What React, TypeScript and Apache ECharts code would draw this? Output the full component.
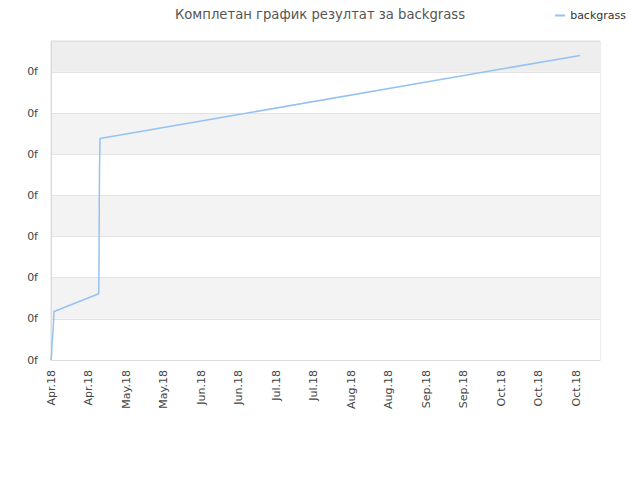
import * as echarts from 'echarts'
import { useEffect, useRef } from 'react'

// day offsets from 4 Apr 2018 and the cumulative score
const days = [0, 0.2, 0.4, 0.8, 1.2, 19.1, 19.2, 19.3, 19.4, 19.6, 211.6]
const scores = [0, 0.1, 0.39, 0.68, 1.18, 1.61, 2.21, 3.79, 4.61, 5.38, 7.4]
const monthNames = ['Jan', 'Feb', 'Mar', 'Apr', 'May', 'Jun', 'Jul', 'Aug', 'Sep', 'Oct', 'Nov', 'Dec']
const seriesName = 'backgrass'
const titleText = 'Комплетан график резултат за backgrass'

const fontFamily = 'DejaVu Sans'

export default function App() {
  const chartRef = useRef<HTMLDivElement>(null)

  useEffect(() => {
    if (!chartRef.current) return
    const chart = echarts.init(chartRef.current, null, { renderer: 'svg' })

    const option: any = {
      animation: false,
      textStyle: { fontFamily },
      title: {
        text: titleText,
        left: 'center',
        top: 3,
        textStyle: { fontSize: 13.2, fontWeight: 'normal', color: '#555', fontFamily }
      },
      legend: {
        top: 5,
        right: 9,
        itemWidth: 10,
        itemHeight: 2,
        icon: 'rect',
        textStyle: { fontSize: 11, color: '#333', fontFamily },
        data: [seriesName]
      },
      grid: {
        left: 51,
        right: 40,
        top: 41,
        bottom: 120,
        show: true,
        borderColor: '#dcdcdc',
        borderWidth: 1,
        backgroundColor: 'transparent'
      },
      xAxis: {
        type: 'value',
        min: 0,
        max: 219.6,
        interval: 15,
        axisLine: { show: true, lineStyle: { color: '#dcdcdc' } },
        axisTick: { show: false },
        splitLine: { show: false },
        axisLabel: {
          rotate: 90,
          fontSize: 11,
          color: '#444',
          margin: 10,
          showMaxLabel: false,
          formatter: (v: number) => {
            const d = new Date(2018, 3, 4 + Math.round(v))
            return monthNames[d.getMonth()] + '.' + String(d.getFullYear()).slice(2)
          }
        }
      },
      yAxis: {
        type: 'value',
        min: 0,
        max: 7.75,
        interval: 1,
        axisLine: { show: true, lineStyle: { color: '#dcdcdc' } },
        axisTick: { show: false },
        axisLabel: {
          fontSize: 11,
          color: '#444',
          margin: 13,
          showMaxLabel: false,
          formatter: () => '0f'
        },
        splitLine: { show: true, lineStyle: { color: '#e2e2e2' } },
        splitArea: {
          show: true,
          areaStyle: {
            color: ['#ffffff', '#f3f3f3', '#ffffff', '#f3f3f3', '#ffffff', '#f3f3f3', '#ffffff', '#eeeeee']
          }
        }
      },
      series: [
        {
          name: seriesName,
          type: 'line',
          showSymbol: false,
          symbol: 'none',
          lineStyle: { color: '#94c2f2', width: 1.5 },
          itemStyle: { color: '#94c2f2' },
          data: days.map((d, i) => [d, scores[i]])
        }
      ]
    }

    chart.setOption(option)
    return () => {
      chart.dispose()
    }
  }, [])

  return <div ref={chartRef} style={{ width: 640, height: 480, margin: -8 }} />
}
